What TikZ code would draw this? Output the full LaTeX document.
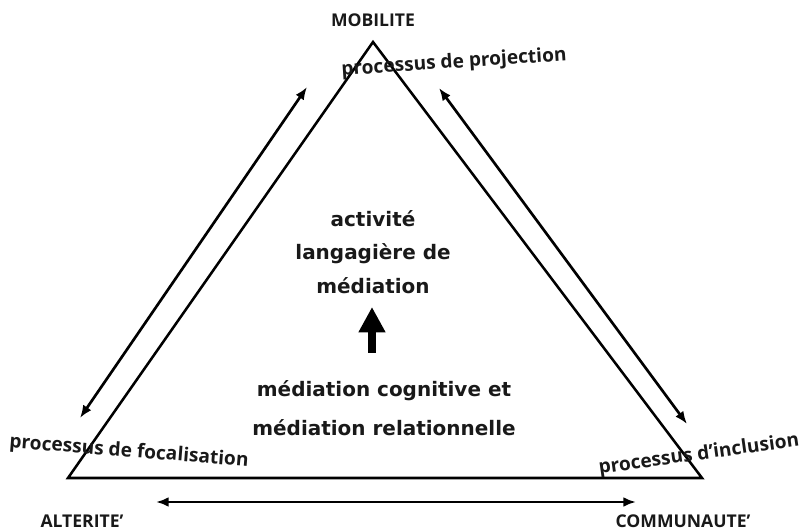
\documentclass[tikz,border=0pt]{standalone}
\usepackage{fontspec}
\usepackage{tikz}
\usetikzlibrary{arrows.meta}
\setmainfont{Open Sans}
\newfontfamily\verdfont{DejaVu Sans}

\begin{document}
\begin{tikzpicture}[x=0.025cm,y=-0.025cm,
    side/.style={line width=1.8pt,line join=miter},
    flow/.style={line width=1.9pt,{Latex[length=9pt,width=7pt]}-{Latex[length=9pt,width=7pt]}},
    pole/.style={font=\fontsize{12.5}{14}\selectfont\bfseries,text=black!90},
    proc/.style={font=\fontsize{13.6}{15}\selectfont\bfseries,text=black!90,inner sep=0pt},
    centre/.style={font=\verdfont\fontsize{14.2}{23.8}\selectfont\bfseries,text=black!90,align=center}]
					\useasboundingbox (0,0) rectangle (804,531);
					% triangle
					\coordinate (mob) at (373,42);
					\coordinate (alt) at (68,478);
					\coordinate (com) at (702,478);
					\draw[side] (mob)--(com)--(alt)--cycle;
					% double arrows along the sides
					\coordinate (la) at (80,418);
					\coordinate (lb) at (307,87);
					\coordinate (ra) at (439,88);
					\coordinate (rb) at (687,424);
					\coordinate (ba) at (156,502);
					\coordinate (bb) at (636,502);
					\draw[flow] (la)--(lb);
					\draw[flow] (ra)--(rb);
					\draw[flow] (ba)--(bb);
					% poles
					\node[pole] (mobilite) at (373,20) {MOBILITE};
					\node[pole] (alterite) at (82,521) {ALTERITE’};
					\node[pole] (communaute) at (683,521) {COMMUNAUTE’};
					% processus
					\node[proc,rotate=3.8] (projection) at (454,63) {processus de projection};
					\node[proc,rotate=-4.5] (focalisation) at (129,452) {processus de focalisation};
					\node[proc,rotate=8] (inclusion) at (699,455) {processus d’inclusion};
					% centre
					\node[centre] (activite) at (373,252) {activité\\langagière de\\médiation};
					\node[centre,font=\verdfont\fontsize{14.2}{28.2}\selectfont\bfseries] (cognitive) at (384,408) {médiation cognitive et\\médiation relationnelle};
					\coordinate (up) at (372,307);
					\draw[line width=6pt,-{Triangle[length=18pt,width=18pt]}] (372,353)--(up);
				\end{tikzpicture}
\end{document}
